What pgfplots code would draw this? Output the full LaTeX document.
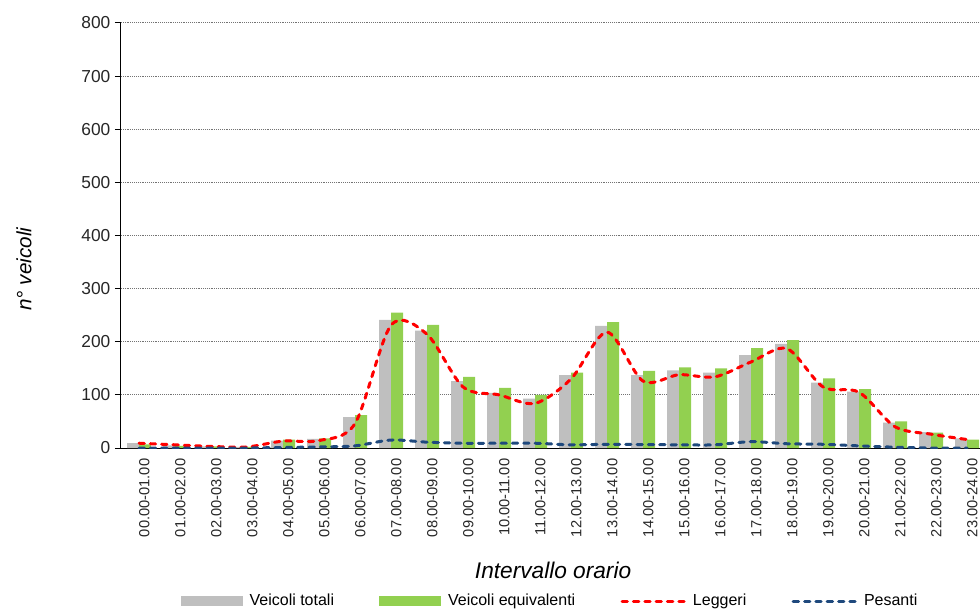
\documentclass[border=0pt]{standalone}
\usepackage{fontspec}
\setmainfont{Liberation Sans}
\usepackage{pgfplots}
\pgfplotsset{compat=1.18}
\usetikzlibrary{calc}
\definecolor{totcol}{HTML}{BFBFBF}
\definecolor{eqcol}{HTML}{92D050}
\definecolor{legcol}{HTML}{FF0000}
\definecolor{pescol}{HTML}{1F497D}

\begin{document}
\begin{tikzpicture}
\begin{axis}[
  scale only axis,
  width=644.25pt, height=318.75pt,
  xmin=-0.5, xmax=23.36,
  ymin=0, ymax=800,
  ytick={0,100,...,800},
  xtick={0,...,23},
  xticklabels={00.00-01.00,01.00-02.00,02.00-03.00,03.00-04.00,04.00-05.00,05.00-06.00,
    06.00-07.00,07.00-08.00,08.00-09.00,09.00-10.00,10.00-11.00,11.00-12.00,
    12.00-13.00,13.00-14.00,14.00-15.00,15.00-16.00,16.00-17.00,17.00-18.00,
    18.00-19.00,19.00-20.00,20.00-21.00,21.00-22.00,22.00-23.00,23.00-24.00},
  axis x line=bottom, axis y line=left,
  axis line style={-, black, line width=0.75pt},
  ymajorgrids,
  grid style={densely dotted, black!55, line width=0.75pt},
  tick align=outside,
  major tick length=4.5pt,
  ytick style={black, line width=0.75pt},
  xtick style={draw=none},
  /pgf/number format/assume math mode=true,
  yticklabel style={font=\fontsize{13}{15}\selectfont, text=black!85},
  xticklabel style={rotate=90, anchor=east, font=\fontsize{11}{13}\selectfont, text=black!85, yshift=-4pt},
  xlabel={\itshape Intervallo orario},
  xlabel style={at={(axis description cs:0.503,0)}, yshift=-91.5pt, anchor=center, font=\fontsize{17}{20}\selectfont},
  ylabel={\itshape n° veicoli},
  ylabel style={at={(axis description cs:-0.1129,0.421)}, anchor=center, font=\fontsize{15.5}{18}\selectfont},
  legend columns=4,
  legend cell align=left,
  legend style={draw=none, fill=none, at={(0.5,-0.36)}, anchor=center,
    font=\fontsize{12}{14}\selectfont,
    /tikz/every odd column/.append style={column sep=3pt},
    /tikz/every even column/.append style={column sep=32pt}},
]

\addplot[ybar, bar width=0.333, bar shift=-0.1667, fill=totcol, draw=none,
  legend image code/.code={\fill[totcol] (0pt,-3.75pt) rectangle (46.5pt,3.75pt);}]
  coordinates {
  (0,9) (1,5) (2,3) (3,2) (4,14) (5,17) (6,58) (7,241) (8,221) (9,126)
  (10,104) (11,93) (12,137) (13,230) (14,137) (15,146) (16,142) (17,175)
  (18,196) (19,123) (20,106) (21,48) (22,30) (23,18)
};
\addlegendentry{Veicoli totali}

\addplot[ybar, bar width=0.333, bar shift=0.1667, fill=eqcol, draw=none,
  legend image code/.code={\fill[eqcol] (0pt,-3.75pt) rectangle (46.5pt,3.75pt);}]
  coordinates {
  (0,7) (1,4) (2,3) (3,2) (4,16) (5,18) (6,62) (7,255) (8,232) (9,134)
  (10,113) (11,100) (12,142) (13,237) (14,145) (15,152) (16,150) (17,188)
  (18,203) (19,131) (20,111) (21,50) (22,29) (23,16)
};
\addlegendentry{Veicoli equivalenti}

\addplot[legcol, smooth, mark=none, line width=2.25pt, line cap=round,
  dash pattern=on 4pt off 4.5pt,
  legend image code/.code={\draw[legcol, line width=2.25pt, line cap=round, dash pattern=on 4pt off 4.5pt] (0pt,0pt) -- (47pt,0pt);}]
  coordinates {
  (0,9) (1,6) (2,3) (3,2) (4,13) (5,14) (6,46) (7,231) (8,214) (9,115)
  (10,100) (11,84) (12,130) (13,218) (14,126) (15,138) (16,134) (17,162)
  (18,187) (19,115) (20,105) (21,40) (22,26) (23,16)
};
\addlegendentry{Leggeri}

\addplot[pescol, smooth, mark=none, line width=2.25pt, line cap=round,
  dash pattern=on 4pt off 4.5pt,
  legend image code/.code={\draw[pescol, line width=2.25pt, line cap=round, dash pattern=on 4pt off 4.5pt] (0pt,0pt) -- (47pt,0pt);}]
  coordinates {
  (0,0) (1,0) (2,0) (3,0) (4,1) (5,2) (6,4) (7,15) (8,11) (9,9)
  (10,9) (11,9) (12,6) (13,7) (14,6.5) (15,6) (16,6) (17,12)
  (18,8) (19,7) (20,4) (21,1.5) (22,0) (23,0)
};
\addlegendentry{Pesanti}

\end{axis}
\pgfresetboundingbox
\path[use as bounding box] ($(current axis.south west)+(-90.75pt,-121.5pt)$) rectangle ($(current axis.north east)+(0pt,17.25pt)$);
\end{tikzpicture}
\end{document}
